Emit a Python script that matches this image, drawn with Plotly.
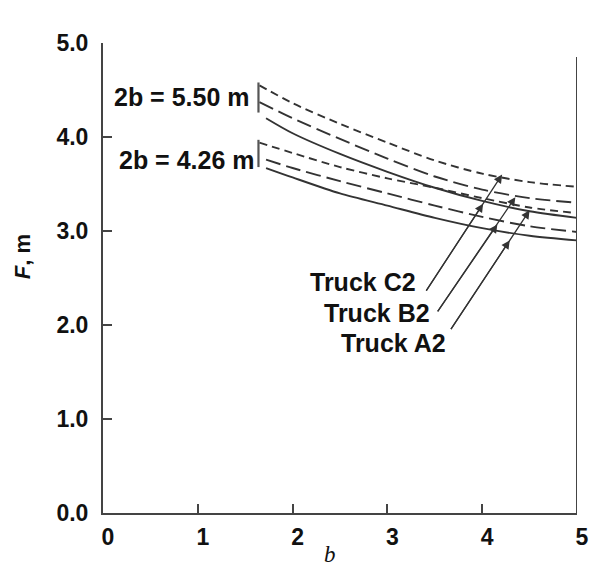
import plotly.graph_objects as go

# ---- data ----
# upper group: 2b = 5.50 m
b_c2_up = [1.65, 2.0, 2.5, 3.0, 3.5, 4.0, 4.5, 5.0]
f_c2_up = [4.55, 4.36, 4.14, 3.94, 3.75, 3.61, 3.52, 3.47]
b_b2_up = [1.65, 2.0, 2.5, 3.0, 3.5, 4.0, 4.5, 5.0]
f_b2_up = [4.37, 4.20, 3.98, 3.77, 3.58, 3.44, 3.35, 3.30]
b_a2_up = [1.72, 2.0, 2.5, 3.0, 3.5, 4.0, 4.5, 5.0]
f_a2_up = [4.20, 4.04, 3.82, 3.63, 3.46, 3.32, 3.21, 3.14]
# lower group: 2b = 4.26 m
b_c2_lo = [1.65, 2.0, 2.5, 3.0, 3.5, 4.0, 4.5, 5.0]
f_c2_lo = [3.94, 3.83, 3.68, 3.56, 3.46, 3.35, 3.25, 3.19]
b_b2_lo = [1.72, 2.0, 2.5, 3.0, 3.5, 4.0, 4.5, 5.0]
f_b2_lo = [3.76, 3.67, 3.53, 3.40, 3.27, 3.15, 3.05, 2.99]
b_a2_lo = [1.72, 2.0, 2.5, 3.0, 3.5, 4.0, 4.5, 5.0]
f_a2_lo = [3.67, 3.57, 3.40, 3.27, 3.14, 3.03, 2.95, 2.90]

group_labels = ["2b = 5.50 m", "2b = 4.26 m"]
group_label_b = [1.57, 1.62]
group_label_f = [4.43, 3.76]
bracket_b = [1.64, 1.64]
bracket_f0 = [4.26, 3.68]
bracket_f1 = [4.58, 3.97]

truck_labels = ["Truck C2", "Truck B2", "Truck A2"]
truck_label_b = [3.32, 3.47, 3.64]
truck_label_f = [2.46, 2.13, 1.81]
arrow_start_b = [3.40, 3.52, 3.66]
arrow_start_f = [2.35, 2.13, 1.94]
arrow_end_b = [4.21, 4.35, 4.50]
arrow_end_f = [3.60, 3.36, 3.22]
arrow_mid_b = [4.01, 4.16, 4.29]
arrow_mid_f = [3.29, 3.07, 2.90]

x_ticks = [0, 1, 2, 3, 4, 5]
y_ticks = [0, 1, 2, 3, 4, 5]
y_ticktext = ["0.0", "1.0", "2.0", "3.0", "4.0", "5.0"]
right_edge_top = 4.85

INK = "#333333"
SHORT = "8px,5px"
LONG = "15px,6px"

fig = go.Figure()
series = [
    (b_c2_up, f_c2_up, SHORT, "Truck C2, 2b = 5.50 m"),
    (b_b2_up, f_b2_up, LONG, "Truck B2, 2b = 5.50 m"),
    (b_a2_up, f_a2_up, "solid", "Truck A2, 2b = 5.50 m"),
    (b_c2_lo, f_c2_lo, SHORT, "Truck C2, 2b = 4.26 m"),
    (b_b2_lo, f_b2_lo, LONG, "Truck B2, 2b = 4.26 m"),
    (b_a2_lo, f_a2_lo, "solid", "Truck A2, 2b = 4.26 m"),
]
for xs, ys, dash, name in series:
    fig.add_trace(go.Scatter(x=xs, y=ys, mode="lines", name=name,
                             line=dict(color=INK, width=1.9, dash=dash, shape="spline", smoothing=0.8),
                             showlegend=False, hoverinfo="skip"))

FONT = "Liberation Sans, Arial, sans-serif"

# brackets
for bx, f0, f1 in zip(bracket_b, bracket_f0, bracket_f1):
    fig.add_shape(type="line", x0=bx, x1=bx, y0=f0, y1=f1, xref="x", yref="y",
                  line=dict(color="#555", width=2.2))
# right edge line
fig.add_shape(type="line", x0=x_ticks[-1], x1=x_ticks[-1], y0=0, y1=right_edge_top,
              xref="x", yref="y", line=dict(color="#444", width=2))

annotations = []
for t, bx, fy in zip(group_labels, group_label_b, group_label_f):
    annotations.append(dict(x=bx, y=fy, xref="x", yref="y", text="<b>%s</b>" % t,
                            showarrow=False, xanchor="right", yanchor="middle",
                            font=dict(family=FONT, size=25, color="#111")))
for t, bx, fy in zip(truck_labels, truck_label_b, truck_label_f):
    annotations.append(dict(x=bx, y=fy, xref="x", yref="y", text="<b>%s</b>" % t,
                            showarrow=False, xanchor="right", yanchor="middle",
                            font=dict(family=FONT, size=25, color="#111")))
for sb, sf, eb, ef, mb, mf in zip(arrow_start_b, arrow_start_f, arrow_end_b, arrow_end_f,
                                  arrow_mid_b, arrow_mid_f):
    for hb, hf in ((eb, ef), (mb, mf)):
        annotations.append(dict(x=hb, y=hf, xref="x", yref="y", ax=sb, ay=sf,
                                axref="x", ayref="y", text="", showarrow=True,
                                arrowhead=2, arrowsize=1.3, arrowwidth=1.3,
                                arrowcolor="#333", standoff=0, startstandoff=0))
# axis titles
annotations.append(dict(x=-0.170, y=0.545, xref="paper", yref="paper",
                        text="<b><i>F</i>, m</b>", showarrow=False, textangle=-90,
                        xanchor="center", yanchor="middle",
                        font=dict(family=FONT, size=22, color="#111")))
annotations.append(dict(x=0.479, y=-0.088, xref="paper", yref="paper",
                        text="<i>b</i>", showarrow=False, xanchor="center", yanchor="middle",
                        font=dict(family="Liberation Serif, Times New Roman, serif", size=23, color="#111")))

# The page body adds an 8 px offset, so the figure is sized/margined to compensate.
fig.update_layout(
    width=592, height=561,
    margin=dict(l=95, r=23, t=35, b=56),
    paper_bgcolor="white", plot_bgcolor="white",
    annotations=annotations,
    xaxis=dict(range=[0, 5], tickvals=x_ticks, ticks="inside", ticklen=9, tickwidth=2,
               tickcolor="#444", showline=True, linecolor="#444", linewidth=2,
               showgrid=False, zeroline=False, ticklabelstandoff=2, ticklabelshift=5,
               tickfont=dict(family=FONT, size=23, color="#111", weight="bold")),
    yaxis=dict(range=[0, 5], tickvals=y_ticks, ticktext=y_ticktext, ticks="inside",
               ticklen=9, tickwidth=2, tickcolor="#444", showline=True,
               linecolor="#444", linewidth=2, showgrid=False, zeroline=False,
               ticklabelstandoff=8,
               tickfont=dict(family=FONT, size=23, color="#111", weight="bold")),
)
fig.write_html("out.html")
